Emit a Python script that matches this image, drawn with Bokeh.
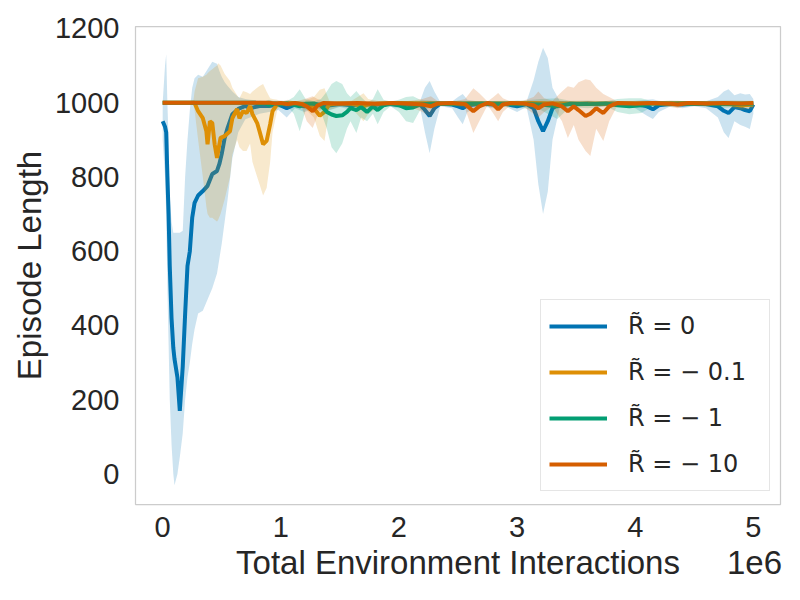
from bokeh.plotting import figure
from bokeh.models import Range1d, FixedTicker, Legend, LegendItem, LinearAxis
from bokeh.embed import file_html
from bokeh.resources import INLINE

# x values are in units of 1e6 environment interactions
labels = ["R\u0303 = 0", "R\u0303 = \u2212 0.1", "R\u0303 = \u2212 1", "R\u0303 = \u2212 10"]
colors = ["#0173B2", "#DE8F05", "#029E73", "#D55E00"]

# R~ = 0
x_r0 = [0.00, 0.02, 0.03, 0.04, 0.05, 0.06, 0.075, 0.09, 0.10, 0.125, 0.145, 0.17, 0.19, 0.21, 0.23,
        0.25, 0.27, 0.30, 0.34, 0.38, 0.42, 0.46, 0.48, 0.50, 0.525, 0.55, 0.59, 0.64, 0.70, 0.74,
        0.82, 0.90, 0.98, 1.05, 1.12, 1.20, 1.30, 1.40, 1.50, 1.60, 1.70, 1.80, 1.90, 2.00, 2.10,
        2.18, 2.22, 2.26, 2.30, 2.35, 2.45, 2.50, 2.54, 2.58, 2.70, 2.80, 2.90, 3.00, 3.08, 3.14,
        3.18, 3.22, 3.26, 3.30, 3.36, 3.50, 3.60, 3.70, 3.80, 3.90, 4.00, 4.10, 4.15, 4.20, 4.30,
        4.40, 4.50, 4.60, 4.70, 4.75, 4.79, 4.84, 4.89, 4.93, 4.97, 5.00]
mean_r0 = [950, 935, 920, 800, 700, 560, 420, 340, 310, 260, 170, 290, 430, 560, 600,
           690, 730, 750, 762, 776, 808, 816, 835, 862, 905, 932, 969, 983, 991, 985,
           991, 991, 995, 985, 995, 990, 995, 992, 996, 993, 996, 994, 997, 994, 997,
           995, 980, 964, 985, 997, 995, 990, 985, 993, 997, 995, 997, 990, 996, 985,
           950, 923, 950, 985, 997, 996, 998, 996, 998, 997, 996, 990, 982, 993, 997,
           995, 997, 996, 990, 978, 972, 988, 985, 980, 977, 995]
lo_r0 = [900, 800, 700, 500, 350, 200, 80, 0, -30, 0, 45, 110, 200, 260, 300,
         350, 390, 432, 440, 470, 500, 540, 580, 620, 680, 740, 850, 920, 955, 960,
         970, 975, 980, 960, 985, 975, 985, 978, 988, 980, 988, 982, 990, 985, 990,
         985, 920, 864, 930, 990, 985, 960, 942, 975, 990, 985, 990, 975, 988, 900,
         780, 700, 760, 900, 985, 988, 992, 988, 992, 990, 985, 965, 956, 975, 990,
         985, 990, 985, 960, 920, 905, 950, 940, 935, 929, 970]
hi_r0 = [1000, 1100, 1130, 1000, 900, 750, 680, 650, 650, 650, 650, 655, 800, 900, 980,
         1040, 1066, 1075, 1070, 1090, 1110, 1105, 1085, 1070, 1055, 1045, 1030, 1015, 1010, 1008,
         1006, 1005, 1005, 1005, 1003, 1003, 1002, 1004, 1002, 1003, 1002, 1003, 1001, 1002, 1001,
         1005, 1040, 1058, 1030, 1002, 1003, 1015, 1023, 1008, 1002, 1003, 1002, 1005, 1003, 1060,
         1110, 1148, 1120, 1040, 1005, 1003, 1002, 1003, 1002, 1002, 1005, 1008, 1009, 1005, 1002,
         1003, 1002, 1004, 1015, 1030, 1036, 1020, 1025, 1022, 1023, 1010]

# R~ = -0.1
x_r01 = [0.00, 0.26, 0.27, 0.30, 0.34, 0.37, 0.38, 0.40, 0.42, 0.44, 0.46, 0.47, 0.49, 0.525, 0.57,
         0.59, 0.63, 0.65, 0.68, 0.71, 0.74, 0.76, 0.80, 0.82, 0.85, 0.88, 0.91, 0.93, 0.97, 1.00,
         1.10, 1.20, 1.28, 1.33, 1.37, 1.41, 1.50, 1.60, 1.70, 1.74, 1.85, 2.00, 2.40, 2.90, 3.10,
         3.50, 4.00, 4.50, 4.80, 4.90, 5.00]
mean_r01 = [1000, 1000, 999, 977, 958, 923, 888, 950, 945, 888, 851, 870, 905, 910, 923,
            958, 983, 958, 977, 972, 991, 969, 945, 923, 888, 897, 942, 977, 996, 998,
            999, 996, 985, 965, 975, 995, 998, 997, 990, 995, 998, 999, 998, 998, 999,
            997, 998, 999, 996, 992, 995]
lo_r01 = [1000, 995, 980, 900, 800, 720, 700, 690, 690, 685, 680, 685, 700, 740, 800,
          860, 900, 880, 870, 870, 890, 840, 800, 780, 750, 770, 840, 920, 980, 990,
          995, 985, 960, 910, 897, 980, 990, 985, 950, 970, 992, 995, 992, 992, 995,
          990, 993, 995, 988, 980, 985]
hi_r01 = [1000, 1005, 1030, 1066, 1070, 1075, 1079, 1085, 1090, 1095, 1100, 1106, 1100, 1077, 1058,
          1040, 1020, 1012, 1031, 1028, 1023, 1030, 1040, 1045, 1050, 1030, 1012, 1010, 1008, 1004,
          1003, 1005, 1015, 1035, 1039, 1005, 1003, 1005, 1025, 1010, 1002, 1002, 1003, 1003, 1002,
          1004, 1003, 1002, 1005, 1005, 1005]

# R~ = -1
x_r1 = [0.00, 0.78, 0.82, 0.86, 0.90, 0.95, 1.00, 1.05, 1.11, 1.16, 1.21, 1.28, 1.34, 1.39, 1.43,
        1.47, 1.52, 1.56, 1.59, 1.64, 1.68, 1.73, 1.78, 1.82, 1.87, 1.93, 2.00, 2.06, 2.12, 2.18,
        2.26, 2.35, 2.50, 2.70, 2.90, 3.05, 3.20, 3.34, 3.45, 3.60, 3.75, 3.85, 3.95, 4.05, 4.15,
        4.30, 4.50, 4.70, 4.85, 5.00]
mean_r1 = [1000, 1000, 997, 999, 995, 998, 996, 998, 994, 990, 997, 998, 992, 975, 968,
           964, 966, 975, 985, 980, 988, 975, 990, 980, 993, 997, 993, 985, 987, 995,
           997, 998, 997, 998, 997, 996, 995, 990, 997, 996, 998, 993, 990, 993, 998,
           997, 998, 996, 997, 998]
lo_r1 = [1000, 1000, 990, 995, 985, 992, 985, 992, 970, 923, 980, 990, 975, 930, 880,
         864, 890, 930, 950, 918, 960, 950, 970, 942, 975, 990, 975, 950, 945, 980,
         985, 992, 988, 992, 988, 985, 980, 956, 988, 985, 990, 975, 969, 972, 990,
         988, 992, 985, 988, 990]
hi_r1 = [1000, 1000, 1005, 1003, 1008, 1003, 1005, 1004, 1015, 1036, 1010, 1004, 1010, 1030, 1050,
         1058, 1050, 1025, 1015, 1031, 1015, 1000, 1010, 1036, 1008, 1003, 1008, 1015, 1017, 1008,
         1006, 1003, 1005, 1004, 1005, 1006, 1010, 1012, 1005, 1006, 1004, 1010, 1012, 1012, 1004,
         1005, 1004, 1006, 1005, 1004]

# R~ = -10
x_r10 = [0.00, 0.90, 0.95, 1.00, 1.06, 1.12, 1.18, 1.22, 1.27, 1.31, 1.36, 1.50, 1.65, 1.80, 1.95,
         2.10, 2.20, 2.27, 2.33, 2.45, 2.56, 2.63, 2.68, 2.75, 2.80, 2.84, 2.88, 2.95, 3.05, 3.14,
         3.18, 3.23, 3.30, 3.38, 3.43, 3.48, 3.52, 3.58, 3.62, 3.67, 3.73, 3.78, 3.85, 4.00, 4.15,
         4.30, 4.36, 4.45, 4.60, 4.75, 4.90, 5.00]
mean_r10 = [1000, 1000, 998, 999, 996, 999, 996, 990, 977, 992, 999, 998, 999, 997, 999,
            997, 995, 990, 998, 999, 996, 977, 990, 999, 995, 982, 995, 999, 998, 993,
            985, 995, 998, 990, 977, 990, 980, 964, 970, 985, 972, 990, 999, 998, 999,
            997, 995, 999, 998, 999, 998, 999]
lo_r10 = [1000, 1000, 993, 995, 985, 995, 985, 950, 932, 965, 993, 990, 995, 988, 995,
          988, 975, 960, 990, 995, 985, 918, 950, 993, 970, 950, 975, 995, 990, 970,
          960, 975, 990, 950, 905, 940, 900, 870, 856, 930, 897, 950, 993, 990, 994,
          988, 985, 994, 990, 993, 990, 995]
hi_r10 = [1000, 1000, 1003, 1002, 1008, 1003, 1008, 1012, 1017, 1010, 1003, 1004, 1003, 1005, 1002,
          1005, 1010, 1017, 1004, 1002, 1010, 1039, 1025, 1003, 1015, 1026, 1012, 1002, 1005, 1015,
          1030, 1012, 1005, 1030, 1044, 1040, 1055, 1063, 1060, 1040, 1023, 1015, 1003, 1004, 1003,
          1005, 1005, 1003, 1004, 1003, 1004, 1002]

x_ticks = [0, 1, 2, 3, 4, 5]
y_ticks = [0, 200, 400, 600, 800, 1000, 1200]
x_title = "Total Environment Interactions"
x_offset_text = "1e6"
y_title = "Episode Length"

series = [
    (x_r0, mean_r0, lo_r0, hi_r0),
    (x_r01, mean_r01, lo_r01, hi_r01),
    (x_r1, mean_r1, lo_r1, hi_r1),
    (x_r10, mean_r10, lo_r10, hi_r10),
]

TEXT = "#262626"
FONT = "Liberation Sans"

p = figure(width=792, height=592, output_backend="svg", toolbar_location=None,
           x_range=Range1d(-0.23, 5.23), y_range=Range1d(-82, 1205),
           min_border_left=135, min_border_right=12, min_border_top=26, min_border_bottom=88)
p.background_fill_color = "white"
p.border_fill_color = "white"
p.outline_line_color = "#cccccc"
p.outline_line_width = 1.25
p.xgrid.visible = False
p.ygrid.visible = False

items = []
for (xs, m, lo, hi), c, lab in zip(series, colors, labels):
    p.varea(x=xs, y1=lo, y2=hi, fill_color=c, fill_alpha=0.2)
    r = p.line(x=xs, y=m, line_color=c, line_width=4)
    items.append(LegendItem(label=lab, renderers=[r]))


def style_axis(ax, size):
    ax.axis_line_color = None
    ax.major_tick_line_color = None
    ax.minor_tick_line_color = None
    ax.major_tick_out = 0
    ax.major_tick_in = 0
    ax.major_label_text_font = FONT
    ax.major_label_text_font_size = size
    ax.major_label_text_color = TEXT
    ax.axis_label_text_font = FONT
    ax.axis_label_text_font_size = "33px"
    ax.axis_label_text_color = TEXT
    ax.axis_label_text_font_style = "normal"


xax = p.xaxis[0]
yax = p.yaxis[0]
style_axis(xax, "29px")
style_axis(yax, "29px")
xax.ticker = FixedTicker(ticks=x_ticks)
yax.ticker = FixedTicker(ticks=y_ticks)
yax.axis_label = y_title
xax.major_label_standoff = 12
yax.major_label_standoff = 16
yax.axis_label_standoff = 4

# second row below the ticks: axis title and the "1e6" scale text
title_axis = LinearAxis(ticker=FixedTicker(ticks=[2.5, 5.01]),
                        major_label_overrides={2.5: x_title, 5.01: x_offset_text})
style_axis(title_axis, "33px")
title_axis.major_label_standoff = 4
p.add_layout(title_axis, "below")

legend = Legend(items=items, location=(405, 13))
legend.label_text_font = "DejaVu Sans"
legend.label_text_font_size = "24px"
legend.label_text_color = TEXT
legend.glyph_width = 58
legend.glyph_height = 24
legend.label_height = 36
legend.label_width = 133
legend.label_standoff = 21
legend.padding = 8
legend.spacing = 10
legend.margin = 0
legend.border_line_color = "#cccccc"
legend.border_line_width = 1.25
legend.background_fill_alpha = 0.8
p.add_layout(legend, "center")

open("out.html", "w").write(file_html(p, INLINE))
